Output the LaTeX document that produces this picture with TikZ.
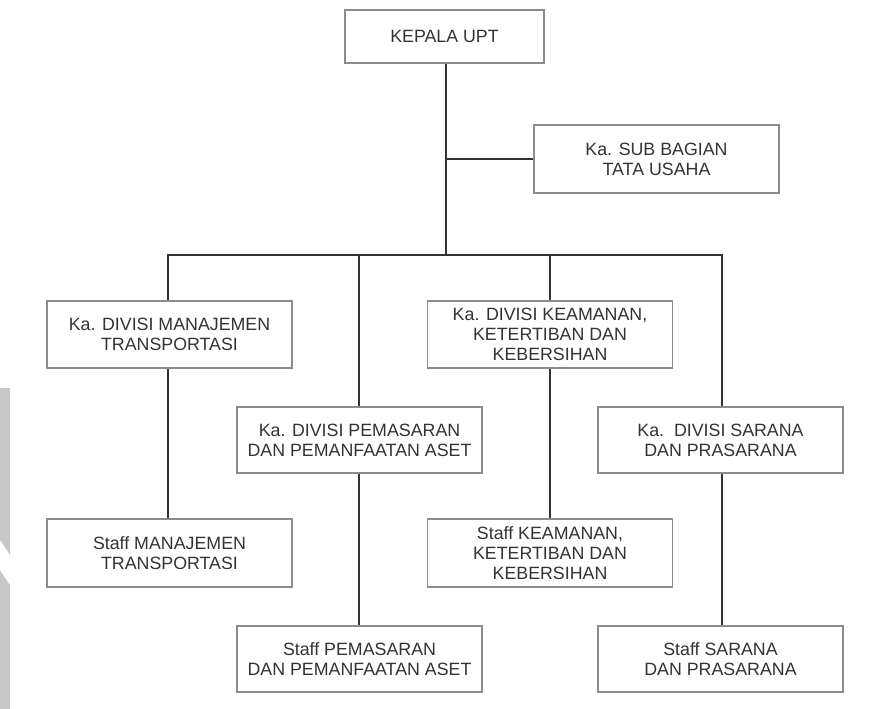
\documentclass[tikz,border=0pt]{standalone}
\usepackage{fontspec}
\setmainfont{Liberation Sans}
\begin{document}
\begin{tikzpicture}[x=1pt,y=-1pt,
  box/.style={draw=black!45, line width=1.1pt, fill=white, inner sep=0pt,
    minimum width=245pt, minimum height=67pt, align=center, text=black!80,
    font=\fontsize{17.8}{20}\selectfont},
  conn/.style={draw=black!80, line width=2.8pt}]
\useasboundingbox (0,0) rectangle (870,709);
% faint watermark band at the left edge
\fill[black!22] (0,388) rectangle (10,709);
\fill[white] (0,540) -- (10,555) -- (10,585) -- (0,570) -- cycle;
% nodes
\node[box, minimum width=199pt, minimum height=53pt] (top) at (444.5,36.5) {KEPALA UPT};
\node[box, minimum width=245pt, minimum height=68pt] (sub) at (656.5,159) {Ka. SUB BAGIAN\\TATA USAHA};
\node[box] (d1) at (169.5,334.5) {Ka. DIVISI MANAJEMEN\\TRANSPORTASI};
\node[box] (d3) at (550,334.5) {Ka. DIVISI KEAMANAN,\\KETERTIBAN DAN\\KEBERSIHAN};
\node[box, minimum height=66pt] (d2) at (359.5,440) {Ka. DIVISI PEMASARAN\\DAN PEMANFAATAN ASET};
\node[box, minimum height=66pt] (d4) at (720.5,440) {Ka.\ \ DIVISI SARANA\\DAN PRASARANA};
\node[box, minimum height=68pt] (s1) at (169.5,553) {Staff MANAJEMEN\\TRANSPORTASI};
\node[box, minimum height=68pt] (s3) at (550,553) {Staff KEAMANAN,\\KETERTIBAN DAN\\KEBERSIHAN};
\node[box, minimum height=66pt] (s2) at (359.5,659) {Staff PEMASARAN\\DAN PEMANFAATAN ASET};
\node[box, minimum height=66pt] (s4) at (720.5,659) {Staff SARANA\\DAN PRASARANA};
\coordinate (j) at (446,255);
% connectors
\draw[conn] (top.south -| j) -- (j);
\draw[conn] (j |- sub.west) -- (sub.west);
\draw[conn, line cap=rect] ([xshift=-1.5pt]d1.north |- j) -- ([xshift=1.5pt]d4.north |- j);
\draw[conn] ([xshift=-1.5pt]d1.north |- j) -- ([xshift=-1.5pt]d1.north);
\draw[conn] ([xshift=-0.5pt]d2.north |- j) -- ([xshift=-0.5pt]d2.north);
\draw[conn] (d3.north |- j) -- (d3.north);
\draw[conn] ([xshift=1.5pt]d4.north |- j) -- ([xshift=1.5pt]d4.north);
\draw[conn] ([xshift=-1.5pt]d1.south) -- ([xshift=-1.5pt]s1.north);
\draw[conn] ([xshift=-0.5pt]d2.south) -- ([xshift=-0.5pt]s2.north);
\draw[conn] (d3.south) -- (s3.north);
\draw[conn] ([xshift=1.5pt]d4.south) -- ([xshift=1.5pt]s4.north);
\end{tikzpicture}
\end{document}
